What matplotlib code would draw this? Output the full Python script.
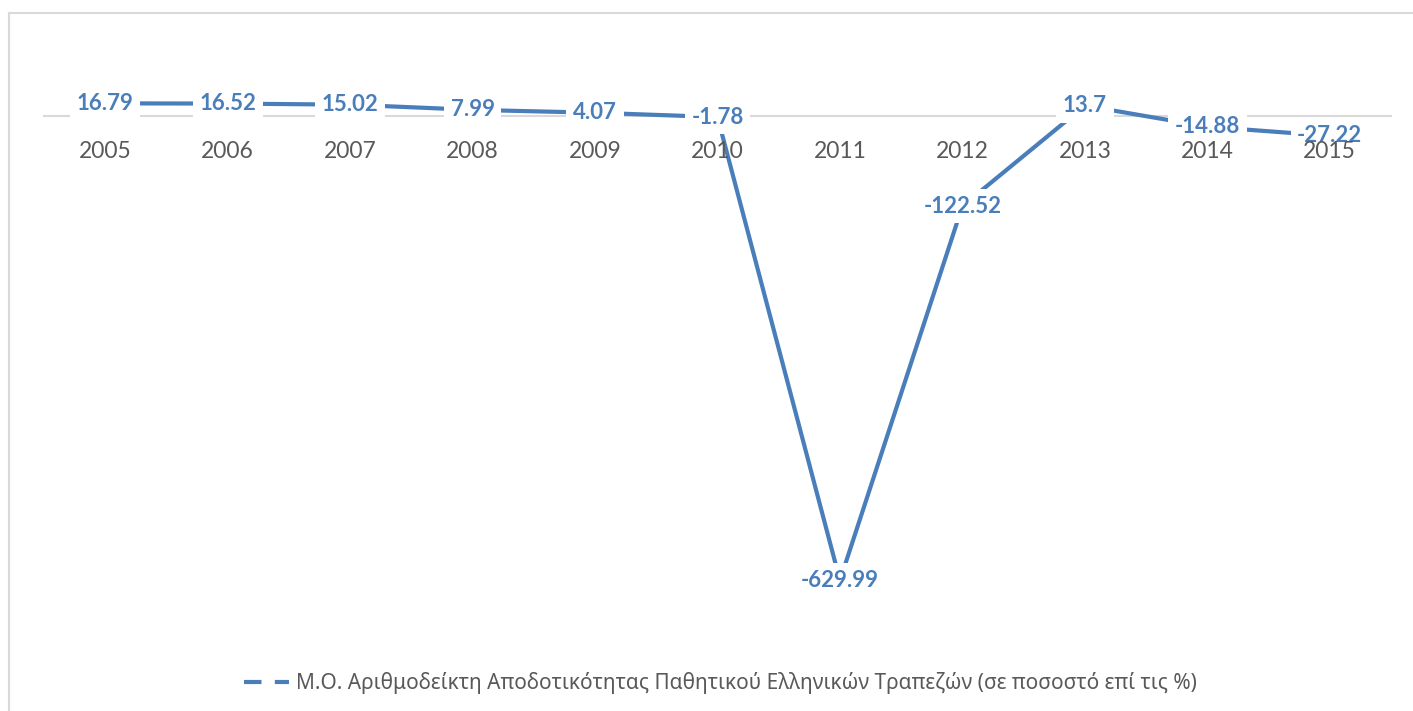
import matplotlib.pyplot as plt
from matplotlib.lines import Line2D

# data
years = ['2005', '2006', '2007', '2008', '2009', '2010',
         '2011', '2012', '2013', '2014', '2015']
values = [16.79, 16.52, 15.02, 7.99, 4.07, -1.78,
          -629.99, -122.52, 13.7, -14.88, -27.22]
series_name = 'Μ.Ο. Αριθμοδείκτη Αποδοτικότητας Παθητικού Ελληνικών Τραπεζών (σε ποσοστό επί τις %)'

blue = '#4A7EBB'
W, H = 1413, 711

fig = plt.figure(figsize=(W / 100, H / 100), dpi=100)
ax = fig.add_axes([44 / W, 1 - 632 / H, (1391 - 44) / W, (632 - 42) / H])

xs = list(range(len(years)))
ax.plot(xs, values, color=blue, lw=3, solid_capstyle='butt', zorder=2)

# data labels centred on the points, white box hides line (tick labels stay on top)
for x, v in zip(xs, values):
    ax.text(x, v, f'{v:g}', ha='center', va='center', color=blue,
            fontsize=16, fontweight='bold', family='Lato', zorder=2.2,
            bbox=dict(boxstyle='square,pad=0.3', fc='white', ec='none'))

ax.set_xlim(-0.5, len(years) - 0.5)
ax.set_ylim(-700, 100)
ax.set_axisbelow(False)

for s in ['top', 'right', 'left']:
    ax.spines[s].set_visible(False)
ax.spines['bottom'].set_position(('data', 0))
ax.spines['bottom'].set_color('#D9D9D9')
ax.spines['bottom'].set_linewidth(1.5)
ax.spines['bottom'].set_zorder(1)
ax.set_yticks([])
ax.set_xticks(xs)
ax.set_xticklabels(years, family='Lato', fontsize=16.5, color='#595959')
ax.tick_params(axis='x', length=0, pad=18)

# legend with dashed sample
handle = Line2D([], [], color=blue, lw=3, linestyle=(0, (4.2, 3.2)))
fig.legend([handle], [series_name], loc='center',
           bbox_to_anchor=(720 / W, 1 - 683 / H), frameon=False,
           handlelength=2.2, handletextpad=0.3,
           prop={'family': 'Noto Sans', 'size': 15}, labelcolor='#595959')

# chart border (top and left visible)
fig.add_artist(Line2D([9 / W, 1], [1 - 13 / H, 1 - 13 / H], color='#D9D9D9', lw=1.5))
fig.add_artist(Line2D([9 / W, 9 / W], [0, 1 - 13 / H], color='#D9D9D9', lw=1.5))

fig.savefig('out.png', dpi=100, facecolor='white')
